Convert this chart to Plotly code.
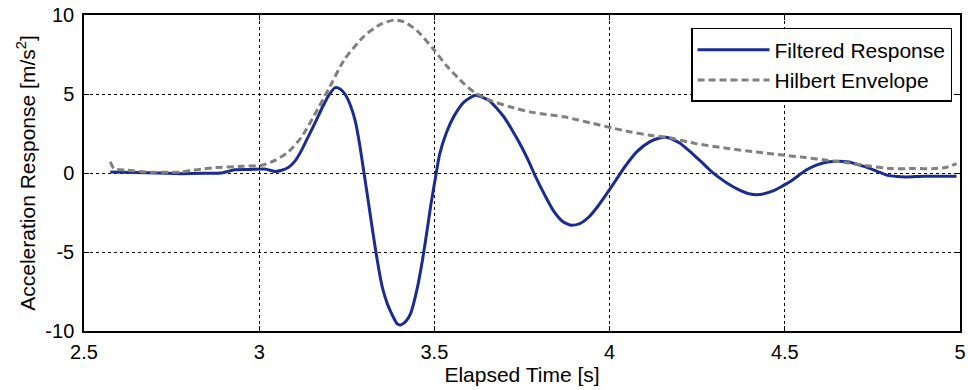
import plotly.graph_objects as go

# Band-pass filtered acceleration record (time in s, acceleration in m/s^2)
resp_t = [2.575, 2.68, 2.777, 2.85, 2.892, 2.93, 2.97, 3.016, 3.045, 3.064, 3.083,
          3.102, 3.12, 3.14, 3.16, 3.179, 3.198, 3.217, 3.232, 3.246, 3.26, 3.274,
          3.286, 3.298, 3.31, 3.322, 3.336, 3.351, 3.366, 3.38, 3.394, 3.403, 3.418,
          3.432, 3.45, 3.466, 3.478, 3.49, 3.503, 3.515, 3.535, 3.556, 3.585, 3.617,
          3.655, 3.698, 3.725, 3.749, 3.77, 3.789, 3.815, 3.84, 3.865, 3.89, 3.915,
          3.94, 3.965, 3.992, 4.018, 4.043, 4.078, 4.114, 4.14, 4.165, 4.2, 4.236,
          4.262, 4.287, 4.312, 4.338, 4.368, 4.398, 4.429, 4.47, 4.495, 4.52, 4.56,
          4.59, 4.622, 4.652, 4.683, 4.714, 4.744, 4.77, 4.794, 4.82, 4.845, 4.896,
          4.94, 4.99]
resp_a = [0.06, 0.02, -0.04, -0.02, 0.0, 0.2, 0.22, 0.25, 0.1, 0.17, 0.35,
          0.75, 1.4, 2.3, 3.2, 4.1, 4.9, 5.4, 5.3, 4.95, 4.3, 3.3,
          1.9, 0.17, -1.6, -3.4, -5.4, -7.2, -8.3, -9.0, -9.55, -9.62, -9.4,
          -8.9, -7.4, -5.5, -3.8, -2.0, -0.3, 1.2, 2.6, 3.6, 4.5, 4.92,
          4.6, 3.56, 2.6, 1.65, 0.7, -0.25, -1.4, -2.4, -3.05, -3.3, -3.2,
          -2.8, -2.15, -1.31, -0.45, 0.38, 1.35, 1.97, 2.2, 2.25, 1.9, 1.23,
          0.7, 0.17, -0.28, -0.68, -1.05, -1.31, -1.36, -1.1, -0.8, -0.47, 0.17,
          0.5, 0.7, 0.75, 0.7, 0.5, 0.28, 0.05, -0.15, -0.22, -0.25, -0.21,
          -0.21, -0.2]

# Magnitude of the analytic signal (Hilbert envelope)
env_t = [2.575, 2.586, 2.624, 2.68, 2.777, 2.806, 2.84, 2.873, 2.95, 3.007, 3.045,
         3.083, 3.121, 3.16, 3.198, 3.243, 3.3, 3.347, 3.385, 3.413, 3.451, 3.498,
         3.536, 3.583, 3.616, 3.659, 3.715, 3.772, 3.82, 3.87, 3.91, 3.952, 4.013,
         4.06, 4.114, 4.165, 4.246, 4.338, 4.419, 4.5, 4.56, 4.622, 4.683, 4.744,
         4.805, 4.87, 4.926, 4.96, 4.99]
env_a = [0.7, 0.27, 0.17, 0.06, 0.06, 0.17, 0.25, 0.34, 0.42, 0.49, 0.8,
         1.33, 2.28, 3.76, 5.3, 7.18, 8.68, 9.42, 9.68, 9.57, 9.0, 7.82,
         6.75, 5.68, 5.08, 4.6, 4.19, 3.87, 3.7, 3.56, 3.35, 3.14, 2.82,
         2.6, 2.39, 2.25, 1.86, 1.55, 1.33, 1.12, 0.98, 0.8, 0.64, 0.42,
         0.28, 0.28, 0.28, 0.35, 0.6]

x_ticks = [2.5, 3, 3.5, 4, 4.5, 5]
x_tick_text = ["2.5", "3", "3.5", "4", "4.5", "5"]
y_ticks = [-10, -5, 0, 5, 10]
y_tick_text = ["-10", "-5", "0", "5", "10"]

FONT = "Liberation Sans, Arial, Helvetica, sans-serif"
TICK_SIZE = 20
LABEL_SIZE = 21

fig = go.Figure()
fig.add_trace(go.Scatter(
    x=resp_t, y=resp_a, mode="lines", name="Filtered Response",
    line=dict(color="rgb(27,44,145)", width=3, shape="spline", smoothing=0.6),
))
fig.add_trace(go.Scatter(
    x=env_t, y=env_a, mode="lines", name="Hilbert Envelope",
    line=dict(color="rgb(128,128,128)", width=3, dash="7px,4px",
              shape="spline", smoothing=0.6),
))

axis_common = dict(
    showline=True, linecolor="black", linewidth=1.5, mirror="ticks",
    ticks="inside", ticklen=5, tickcolor="black", tickwidth=1,
    showgrid=True, gridcolor="black", gridwidth=1, griddash="dot",
    zeroline=False, tickfont=dict(family=FONT, size=TICK_SIZE, color="black"),
)

fig.update_xaxes(
    range=[2.5, 5], tickvals=x_ticks, ticktext=x_tick_text,
    title=dict(text="Elapsed Time [s]",
               font=dict(family=FONT, size=LABEL_SIZE, color="black"), standoff=4),
    ticklabelstandoff=2,
    **axis_common,
)
fig.update_yaxes(
    range=[-10, 10], tickvals=y_ticks, ticktext=y_tick_text,
    title=dict(text="Acceleration Response [m/s<sup>2</sup>]",
               font=dict(family=FONT, size=LABEL_SIZE, color="black"), standoff=4),
    ticklabelstandoff=4,
    **axis_common,
)

fig.update_layout(
    width=968, height=390,
    margin=dict(l=84, r=8, t=15, b=59, autoexpand=False),
    paper_bgcolor="white", plot_bgcolor="white",
    font=dict(family=FONT, size=LABEL_SIZE, color="black"),
    legend=dict(
        x=0.9909, y=0.9589, xanchor="right", yanchor="top",
        bgcolor="white", bordercolor="black", borderwidth=1.5,
        font=dict(family=FONT, size=LABEL_SIZE, color="black"),
        itemwidth=72,
    ),
)

fig.write_html("out.html")
